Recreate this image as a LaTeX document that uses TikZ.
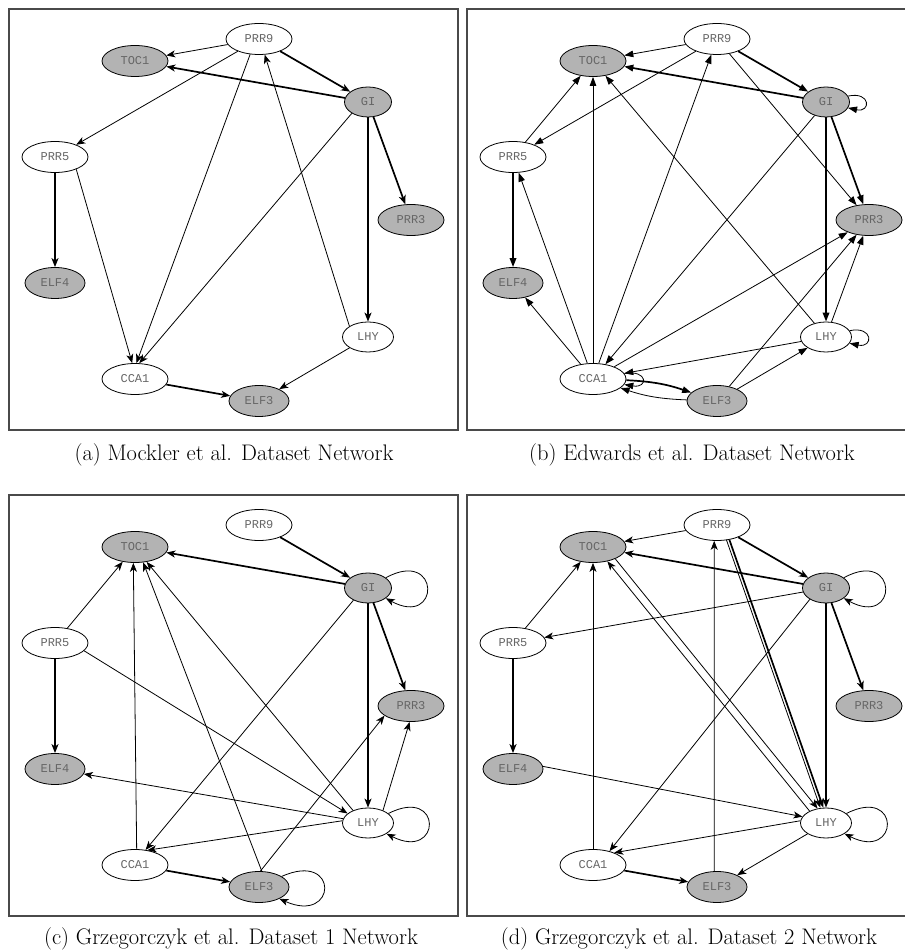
\documentclass[tikz,border=0pt]{standalone}
\usepackage{fontspec}
\usetikzlibrary{shapes.geometric,arrows.meta}
\newfontfamily\genefont{Liberation Mono}
\definecolor{nodegray}{HTML}{B3B3B3}
\definecolor{genetext}{HTML}{666666}
\definecolor{framegray}{HTML}{4A4A4A}
\tikzset{
  gene/.style={ellipse, draw=black, line width=0.8pt, inner sep=0pt, minimum height=31pt,
    font={\genefont\fontsize{12pt}{13pt}\selectfont}, text=genetext},
  wideg/.style={gene, minimum width=66pt},
  midg/.style={gene, minimum width=60pt},
  gig/.style={gene, minimum width=47pt, minimum height=30pt},
  lhyg/.style={gene, minimum width=51pt, minimum height=30pt},
  shaded/.style={fill=nodegray},
  blank/.style={fill=white},
  wk/.style={->, line width=0.8pt},
  st/.style={->, line width=1.7pt},
  vee tips/.style={>={Stealth[length=9pt,width=7pt,inset=2.5pt]}},
  tri tips/.style={>={Triangle[length=9pt,width=6.5pt]}},
  panel/.style={draw=framegray, line width=1.4pt},
  caption/.style={anchor=base, font=\fontsize{22.5pt}{27pt}\selectfont},
}
% the nine genes of one network, names prefixed by #1
\newcommand\genelayout[1]{%
  \node[wideg, blank]  (#1PRR9) at (259,912) {PRR9};
  \node[wideg, shaded] (#1TOC1) at (135,890) {TOC1};
  \node[gig,   shaded] (#1GI)   at (368,849) {GI};
  \node[wideg, blank]  (#1PRR5) at (55,794)  {PRR5};
  \node[wideg, shaded] (#1PRR3) at (411,731) {PRR3};
  \node[midg,  shaded] (#1ELF4) at (55,668)  {ELF4};
  \node[lhyg,  blank]  (#1LHY)  at (368,614) {LHY};
  \node[wideg, blank]  (#1CCA1) at (135,572) {CCA1};
  \node[midg,  shaded] (#1ELF3) at (259,550) {ELF3};
}
\begin{document}
\begin{tikzpicture}[x=1pt, y=1pt]
\useasboundingbox (0,0) rectangle (905,951);
\clip (0,0) rectangle (905,951);
\fill[white] (0,0) rectangle (905,951);

% (a) Mockler et al.
\begin{scope}[vee tips]
  \draw[panel] (9,942) rectangle (458,521);
  \genelayout{a}
  \draw[wk] (aPRR9) -- (aTOC1);
  \draw[st] (aGI) -- (aTOC1);
  \draw[st] (aPRR9) -- (aGI);
  \draw[wk] (aPRR9) -- (aPRR5);
  \draw[wk] (aPRR9.-120) -- (aCCA1.85);
  \draw[wk] (aGI.-145) -- (aCCA1.75);
  \draw[st] (aGI) -- (aPRR3);
  \draw[st] (aGI) -- (aLHY);
  \draw[st] (aPRR5) -- (aELF4);
  \draw[wk] (aPRR5.-30) -- (aCCA1.100);
  \draw[wk] (aLHY.150) -- (aPRR9.-70);
  \draw[wk] (aLHY) -- (aELF3);
  \draw[st] (aCCA1) -- (aELF3);
  \node[caption] (capa) at (234,490) {(a) Mockler et al. Dataset Network};
\end{scope}

% (b) Edwards et al.
\begin{scope}[shift={(458,0)}, tri tips]
  \draw[panel] (9,942) rectangle (458,521);
  \genelayout{b}
  \draw[wk] (bPRR9) -- (bTOC1);
  \draw[st] (bGI) -- (bTOC1);
  \draw[st] (bPRR9) -- (bGI);
  \draw[wk] (bPRR9) -- (bPRR5);
  \draw[wk] (bPRR9) -- (bPRR3);
  \draw[wk] (bGI.15) .. controls +(23,5) and +(23,-5) .. (bGI.-15);
  \draw[st] (bGI) -- (bPRR3);
  \draw[st] (bGI) -- (bLHY);
  \draw[wk] (bGI) -- (bCCA1);
  \draw[wk] (bPRR5) -- (bTOC1);
  \draw[st] (bPRR5) -- (bELF4);
  \draw[wk] (bCCA1) -- (bPRR5);
  \draw[wk] (bCCA1) -- (bTOC1);
  \draw[wk] (bCCA1) -- (bPRR9);
  \draw[wk] (bCCA1) -- (bELF4);
  \draw[wk] (bLHY) -- (bTOC1);
  \draw[wk] (bCCA1) -- (bPRR3);
  \draw[wk] (bELF3) -- (bPRR3);
  \draw[wk] (bLHY) -- (bPRR3);
  \draw[wk] (bLHY.15) .. controls +(24,5) and +(24,-5) .. (bLHY.-15);
  \draw[wk] (bLHY) -- (bCCA1);
  \draw[wk] (bELF3) -- (bLHY);
  \draw[st] (bCCA1) to[bend left=8] (bELF3);
  \draw[wk] (bELF3) to[bend left=8] (bCCA1);
  \draw[wk] (bCCA1.10) .. controls +(24,4) and +(24,-4) .. (bCCA1.-10);
  \node[caption] (capb) at (234,490) {(b) Edwards et al. Dataset Network};
\end{scope}

% (c) Grzegorczyk et al., dataset 1
\begin{scope}[shift={(0,-486)}, vee tips]
  \draw[panel] (9,942) rectangle (458,521);
  \genelayout{c}
  \draw[st] (cPRR9) -- (cGI);
  \draw[st] (cGI) -- (cTOC1);
  \draw[wk] (cGI.30) .. controls +(55,30) and +(55,-30) .. (cGI.-30);
  \draw[st] (cGI) -- (cPRR3);
  \draw[st] (cGI) -- (cLHY);
  \draw[wk] (cGI.-140) -- (cCCA1.55);
  \draw[wk] (cPRR5) -- (cTOC1);
  \draw[st] (cPRR5) -- (cELF4);
  \draw[wk] (cPRR5.-15) -- (cLHY.155);
  \draw[wk] (cCCA1.84) -- (cTOC1.-96);
  \draw[wk] (cELF3.80) -- (cTOC1.-62);
  \draw[wk] (cLHY.140) -- (cTOC1.-52);
  \draw[wk] (cLHY) -- (cELF4);
  \draw[wk] (cLHY.175) -- (cCCA1.50);
  \draw[wk] (cELF3.85) -- (cPRR3.-160);
  \draw[wk] (cLHY.40) -- (cPRR3.-95);
  \draw[wk] (cLHY.25) .. controls +(55,28) and +(55,-28) .. (cLHY.-30);
  \draw[st] (cCCA1) -- (cELF3);
  \draw[wk] (cELF3.25) .. controls +(58,26) and +(58,-26) .. (cELF3.-30);
  \node[caption] (capc) at (231,492) {(c) Grzegorczyk et al. Dataset 1 Network};
\end{scope}

% (d) Grzegorczyk et al., dataset 2
\begin{scope}[shift={(458,-486)}, vee tips]
  \draw[panel] (9,942) rectangle (458,521);
  \genelayout{d}
  \draw[wk] (dPRR9) -- (dTOC1);
  \draw[st] (dGI) -- (dTOC1);
  \draw[st] (dPRR9) -- (dGI);
  \draw[wk] (dGI.30) .. controls +(55,30) and +(55,-30) .. (dGI.-30);
  \draw[wk] (dGI) -- (dPRR5);
  \draw[wk] (dGI.-145) -- (dCCA1.40);
  \draw[st] (dGI) -- (dPRR3);
  \draw[st] (dGI) -- (dLHY);
  \draw[st] (dPRR9.-50) -- (dLHY.100);
  \draw[wk] ([xshift=-3pt]dPRR9.-50) -- ([xshift=-3pt]dLHY.100);
  \draw[wk] (dTOC1.-28) -- (dLHY.120);
  \draw[wk] (dLHY.144) -- (dTOC1.-45);
  \draw[wk] (dPRR5) -- (dTOC1);
  \draw[st] (dPRR5) -- (dELF4);
  \draw[wk] (dCCA1) -- (dTOC1);
  \draw[wk] (dELF3.100) -- (dPRR9.-100);
  \draw[wk] (dELF4.5) -- (dLHY.165);
  \draw[wk] (dLHY.175) -- (dCCA1.30);
  \draw[wk] (dLHY) -- (dELF3);
  \draw[wk] (dLHY.25) .. controls +(55,28) and +(55,-28) .. (dLHY.-30);
  \draw[st] (dCCA1) -- (dELF3);
  \node[caption] (capd) at (231,492) {(d) Grzegorczyk et al. Dataset 2 Network};
\end{scope}
\end{tikzpicture}
\end{document}
